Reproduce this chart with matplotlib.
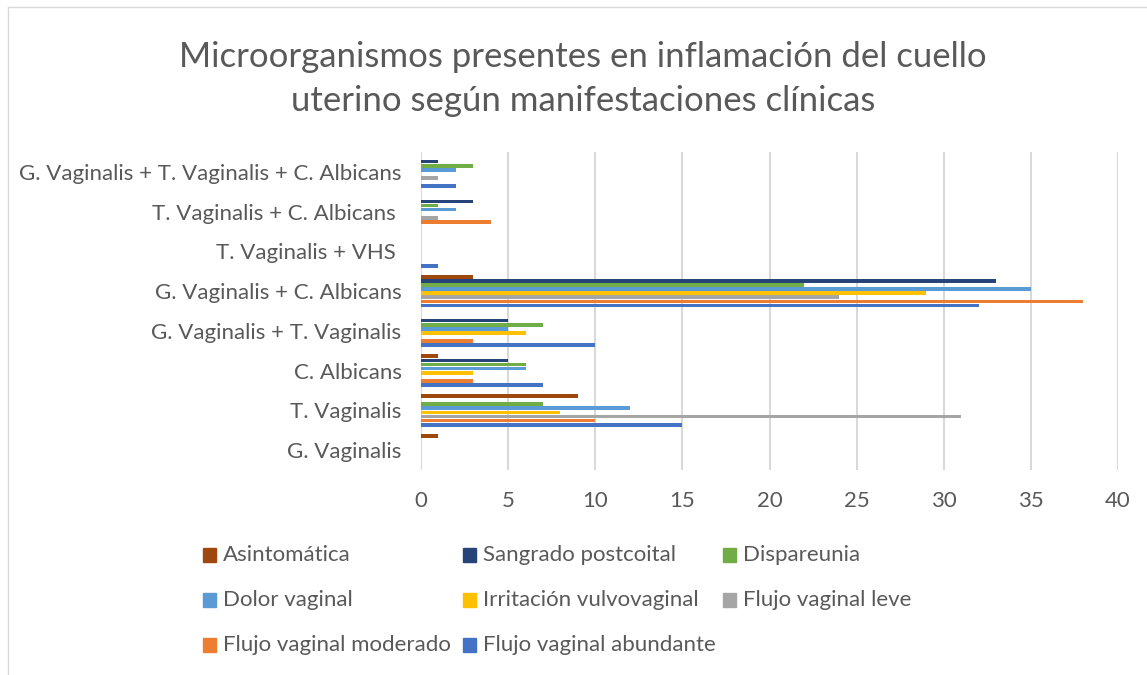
import numpy as np
import matplotlib.pyplot as plt
from matplotlib.lines import Line2D

plt.rcParams['font.family'] = ['Lato', 'DejaVu Sans']

categories = ["G. Vaginalis", "T. Vaginalis", "C. Albicans",
              "G. Vaginalis + T. Vaginalis", "G. Vaginalis + C. Albicans",
              "T. Vaginalis + VHS ", "T. Vaginalis + C. Albicans ",
              "G. Vaginalis + T. Vaginalis + C. Albicans"]

# series, bottom-to-top inside each category group
abundante = [0, 15, 7, 10, 32, 1, 0, 2]
moderado = [0, 10, 3, 3, 38, 0, 4, 0]
leve = [0, 31, 0, 0, 24, 0, 1, 1]
irritacion = [0, 8, 3, 6, 29, 0, 0, 0]
dolor = [0, 12, 6, 5, 35, 0, 2, 2]
dispareunia = [0, 7, 6, 7, 22, 0, 1, 3]
sangrado = [0, 0, 5, 5, 33, 0, 3, 1]
asintomatica = [1, 9, 1, 0, 3, 0, 0, 0]

series = [
    ("Flujo vaginal abundante", abundante, "#4472C4"),
    ("Flujo vaginal moderado", moderado, "#ED7D31"),
    ("Flujo vaginal leve", leve, "#A5A5A5"),
    ("Irritación vulvovaginal", irritacion, "#FFC000"),
    ("Dolor vaginal", dolor, "#5B9BD5"),
    ("Dispareunia", dispareunia, "#70AD47"),
    ("Sangrado postcoital", sangrado, "#264478"),
    ("Asintomática", asintomatica, "#9E480E"),
]

txt = "#595959"
W, H = 1147, 675
fig = plt.figure(figsize=(W / 100, H / 100), dpi=100)
ax = fig.add_axes([421 / W, 1 - 470 / H, (1118 - 421) / W, 318 / H])

y = np.arange(len(categories))
step = 0.103
for i, (name, vals, col) in enumerate(series):
    off = (i - 3.5) * step
    ax.barh(y + off, vals, height=0.092, color=col, label=name, zorder=3)

ax.set_xlim(0, 40)
ax.set_ylim(-0.5, len(categories) - 0.5)
ax.set_xticks(range(0, 41, 5))
ax.set_yticks(y)
ax.set_yticklabels(categories)
ax.tick_params(length=0, labelsize=16, colors=txt)
ax.tick_params(axis='x', pad=15)
ax.tick_params(axis='y', pad=14)
ax.grid(axis='x', color="#D9D9D9", linewidth=1.5, zorder=0)
for s in ax.spines.values():
    s.set_visible(False)

fig.text(583 / W, 1 - 57 / H, "Microorganismos presentes en inflamación del cuello",
         ha='center', va='center', fontsize=25, color=txt)
fig.text(583 / W, 1 - 101 / H, "uterino según manifestaciones clínicas",
         ha='center', va='center', fontsize=25, color=txt)

# legend laid out as in the original (3 columns, rows read left to right)
order = [7, 6, 5, 4, 3, 2, 1, 0]
col_x = [223, 483, 743]
row_y = [555, 600, 645]
for k, idx in enumerate(order):
    name, vals, col = series[idx]
    tx = col_x[k % 3]
    cy = row_y[k // 3]
    fig.patches.append(plt.Rectangle(((tx - 20) / W, 1 - (cy + 7) / H), 13 / W, 14 / H,
                                     transform=fig.transFigure, color=col))
    fig.text(tx / W, 1 - cy / H, name, ha='left', va='center',
             fontsize=16, color=txt)

# chart frame (left and top edges visible)
fig.add_artist(Line2D([8 / W, 8 / W], [0, 1 - 7 / H], transform=fig.transFigure,
                      color="#D9D9D9", linewidth=1))
fig.add_artist(Line2D([8 / W, 1], [1 - 7 / H, 1 - 7 / H], transform=fig.transFigure,
                      color="#D9D9D9", linewidth=1))

fig.savefig("out.png", dpi=100)
